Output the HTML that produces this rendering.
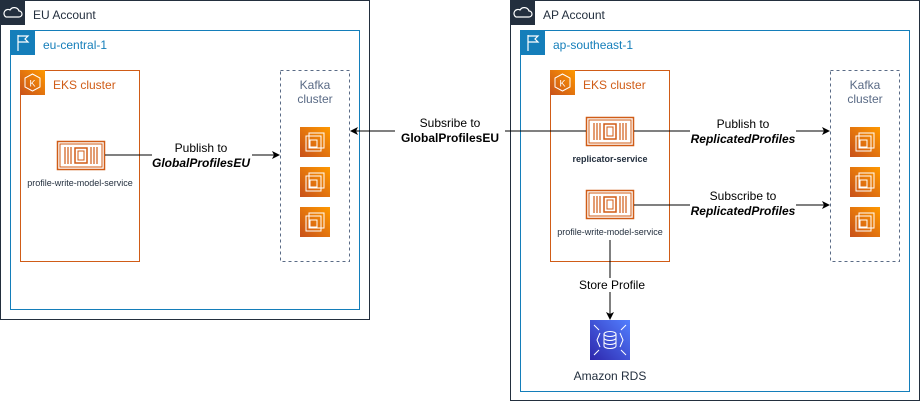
<!DOCTYPE html>
<html><head><meta charset="utf-8"><style>body{margin:0;background:#fff}svg{display:block;font-family:"Liberation Sans",Arial,sans-serif}</style></head><body>
<svg width="921" height="401" viewBox="0 0 921 401" xmlns="http://www.w3.org/2000/svg">
<defs>
<marker id="ar" markerWidth="8" markerHeight="8" refX="7" refY="4" orient="auto" markerUnits="userSpaceOnUse"><path d="M0,0 L8,4 L0,8 L2,4 z" fill="#000"/></marker>
<linearGradient id="og" x1="0" y1="1" x2="1" y2="0"><stop offset="0" stop-color="#c8511b"/><stop offset="1" stop-color="#f90"/></linearGradient>
<linearGradient id="bg" x1="0" y1="1" x2="1" y2="0"><stop offset="0" stop-color="#2e27ad"/><stop offset="1" stop-color="#527fff"/></linearGradient>
<g id="ec2"><rect width="30" height="30" fill="url(#og)"/><rect x="9" y="6" width="15" height="15" fill="none" stroke="#fff" stroke-width="1"/><rect x="6" y="9" width="15" height="15" fill="none" stroke="#fff" stroke-width="1"/><rect x="10" y="13" width="7" height="7" fill="none" stroke="#fff"/></g>
<g id="ctr"><rect x="0.5" y="0.5" width="47" height="28" fill="#fff" stroke="#d05c17" stroke-width="1.5"/><rect x="3" y="3" width="42" height="23" fill="none" stroke="#d05c17"/><path d="M8,6v17M11,6v17M14,6v17M34,6v17M37,6v17M40,6v17" stroke="#d05c17" stroke-width="1.2"/><rect x="18" y="7" width="12" height="15" fill="none" stroke="#d05c17" stroke-width="1.5"/><rect x="21" y="10" width="6" height="9" fill="none" stroke="#d05c17"/></g>
<g id="eks"><rect width="25" height="25" fill="url(#og)"/><polygon points="12.5,4 20,8 20,17 12.5,21 5,17 5,8" fill="none" stroke="#fff" stroke-width="1"/><text x="12.5" y="16.5" font-size="9" fill="#fff" text-anchor="middle">K</text></g>
<g id="cloud"><rect width="25" height="25" fill="#232f3e"/><path d="M6,17 h13 a3,3 0 0 0 0,-6 a5,5 0 0 0 -9,-1 a3.5,3.5 0 0 0 -4,7z" fill="none" stroke="#fff" stroke-width="1.2"/></g>
<g id="flag"><rect width="25" height="25" fill="#147eba"/><path d="M8,5v16M8,6h10l-3,3 3,3h-10" fill="none" stroke="#fff" stroke-width="1.2"/></g>
</defs>

<!-- EU -->
<rect x="0.5" y="0.5" width="369" height="319" fill="none" stroke="#232f3e"/>
<use href="#cloud" x="0" y="0"/>
<text x="33" y="19" font-size="12" fill="#232f3e">EU Account</text>
<rect x="10.5" y="30.5" width="349" height="279" fill="none" stroke="#147eba"/>
<use href="#flag" x="10" y="30"/>
<text x="43" y="49" font-size="12" fill="#147eba">eu-central-1</text>
<rect x="20.5" y="70.5" width="119" height="191" fill="none" stroke="#d05c17"/>
<use href="#eks" x="20" y="70"/>
<text x="53" y="89" font-size="12" fill="#d05c17">EKS cluster</text>
<rect x="280.5" y="70.5" width="69" height="191" fill="none" stroke="#5a6b86" stroke-dasharray="3,3"/>
<text x="315" y="89" font-size="12" fill="#5a6b86" text-anchor="middle">Kafka</text>
<text x="315" y="103" font-size="12" fill="#5a6b86" text-anchor="middle">cluster</text>
<use href="#ec2" x="300" y="127"/><use href="#ec2" x="300" y="167"/><use href="#ec2" x="300" y="207"/>
<use href="#ctr" x="57" y="141"/>
<text x="80" y="186" font-size="9" fill="#232f3e" text-anchor="middle">profile-write-model-service</text>
<line x1="105" y1="155" x2="279" y2="155" stroke="#000" marker-end="url(#ar)"/>
<rect x="152" y="140" width="100" height="30" fill="#fff"/>
<text x="201" y="152" font-size="12" text-anchor="middle">Publish to</text>
<text x="201" y="167" font-size="12" font-weight="bold" font-style="italic" text-anchor="middle">GlobalProfilesEU</text>

<!-- AP -->
<rect x="510.5" y="0.5" width="409" height="400" fill="none" stroke="#232f3e"/>
<use href="#cloud" x="510" y="0"/>
<text x="543" y="19" font-size="12" fill="#232f3e">AP Account</text>
<rect x="520.5" y="30.5" width="389" height="361" fill="none" stroke="#147eba"/>
<use href="#flag" x="520" y="30"/>
<text x="553" y="49" font-size="12" fill="#147eba">ap-southeast-1</text>
<rect x="550.5" y="70.5" width="119" height="191" fill="none" stroke="#d05c17"/>
<use href="#eks" x="550" y="70"/>
<text x="583" y="89" font-size="12" fill="#d05c17">EKS cluster</text>
<rect x="830.5" y="70.5" width="69" height="191" fill="none" stroke="#5a6b86" stroke-dasharray="3,3"/>
<text x="865" y="89" font-size="12" fill="#5a6b86" text-anchor="middle">Kafka</text>
<text x="865" y="103" font-size="12" fill="#5a6b86" text-anchor="middle">cluster</text>
<use href="#ec2" x="850" y="127"/><use href="#ec2" x="850" y="167"/><use href="#ec2" x="850" y="207"/>
<use href="#ctr" x="586" y="117"/>
<text x="610" y="162" font-size="9" font-weight="bold" fill="#232f3e" text-anchor="middle">replicator-service</text>
<use href="#ctr" x="586" y="190"/>
<text x="610" y="235" font-size="9" fill="#232f3e" text-anchor="middle">profile-write-model-service</text>

<line x1="586" y1="131" x2="351" y2="131" stroke="#000" marker-end="url(#ar)"/>
<rect x="395" y="116" width="110" height="30" fill="#fff"/>
<text x="450" y="127" font-size="12" text-anchor="middle">Subsribe to</text>
<text x="450" y="142" font-size="12" font-weight="bold" text-anchor="middle">GlobalProfilesEU</text>

<line x1="634" y1="131" x2="829" y2="131" stroke="#000" marker-end="url(#ar)"/>
<rect x="690" y="118" width="106" height="28" fill="#fff"/>
<text x="743" y="128" font-size="12" text-anchor="middle">Publish to</text>
<text x="743" y="143" font-size="12" font-weight="bold" font-style="italic" text-anchor="middle">ReplicatedProfiles</text>

<line x1="634" y1="205" x2="829" y2="205" stroke="#000" marker-end="url(#ar)"/>
<rect x="690" y="190" width="106" height="28" fill="#fff"/>
<text x="743" y="200" font-size="12" text-anchor="middle">Subscribe to</text>
<text x="743" y="215" font-size="12" font-weight="bold" font-style="italic" text-anchor="middle">ReplicatedProfiles</text>

<line x1="610" y1="240" x2="610" y2="319" stroke="#000" marker-end="url(#ar)"/>
<rect x="575" y="278" width="72" height="14" fill="#fff"/>
<text x="612" y="289" font-size="12" text-anchor="middle">Store Profile</text>

<rect x="590" y="320" width="40" height="40" fill="url(#bg)"/>
<ellipse cx="610" cy="334" rx="6" ry="2.5" fill="none" stroke="#fff"/>
<path d="M604,334v12a6,2.5 0 0 0 12,0v-12M604,338a6,2.5 0 0 0 12,0M604,342a6,2.5 0 0 0 12,0M600,333l-3,7 3,7M620,333l3,7-3,7M594,325l5,5M626,325l-5,5M594,355l5-5M626,355l-5-5" fill="none" stroke="#fff"/>
<text x="610" y="380" font-size="12" fill="#232f3e" text-anchor="middle">Amazon RDS</text>
</svg>
</body></html>
